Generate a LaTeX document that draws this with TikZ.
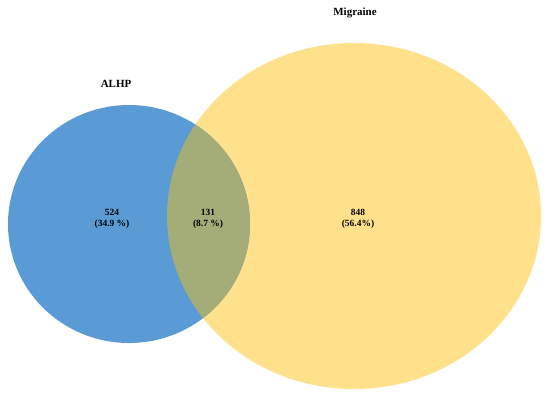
\documentclass[tikz,border=0pt]{standalone}
\usepackage{fontspec}
\setmainfont{Liberation Serif}
\usepackage{xcolor}

\definecolor{alhpblue}{RGB}{91,155,213}
\definecolor{miggold}{RGB}{255,225,140}
\definecolor{bothgreen}{RGB}{164,172,120}

\begin{document}
\begin{tikzpicture}[
    x=1bp, y=-1bp,
    count/.style={font=\fontsize{9.5}{11}\selectfont\bfseries, align=center},
    setname/.style={font=\fontsize{11}{13}\selectfont\bfseries}
]
\useasboundingbox (0,0) rectangle (550,399);

% 1. Sets
\fill[miggold] (354,216) ellipse [x radius=187bp, y radius=173bp];
\fill[alhpblue] (129,224) ellipse [x radius=121bp, y radius=119bp];
\begin{scope}
\clip (129,224) ellipse [x radius=121bp, y radius=119bp];
\fill[bothgreen] (354,216) ellipse [x radius=187bp, y radius=173bp];
\end{scope}

% 2. Set names
\node[setname] (alhp) at (116,84) {ALHP};
\node[setname] (migraine) at (355,13) {Migraine};

% 3. Counts
\node[count] (onlyA) at (112,219) {524\\(34.9 \%)};
\node[count] (both) at (208,219) {131\\(8.7 \%)};
\node[count] (onlyB) at (358,219) {848\\(56.4\%)};
\end{tikzpicture}
\end{document}
